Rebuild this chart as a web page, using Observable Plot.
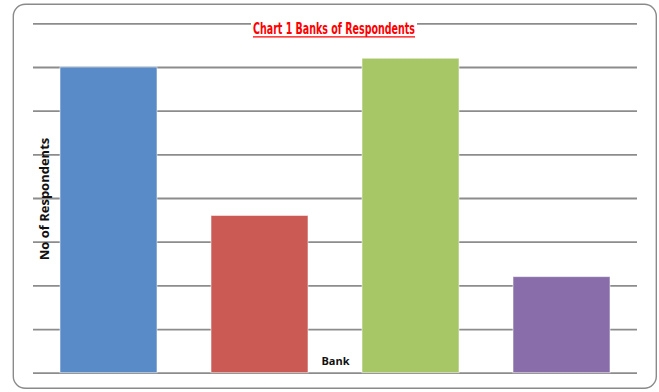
<!DOCTYPE html>
<html>
<head>
<meta charset="utf-8">
<script src="https://cdn.jsdelivr.net/npm/d3@7"></script>
<script src="https://cdn.jsdelivr.net/npm/@observablehq/plot@0.6"></script>
<style>
  html, body { margin: 0; padding: 0; background: #fff; }
  #chart svg { display: block; }
</style>
</head>
<body>
<div id="chart"></div>
<script>
// Data (gridlines every 10, 200 respondents in total)
const banks = ["Bank 1", "Bank 2", "Bank 3", "Bank 4"];
const respondents = [70, 36, 72, 22];
const barColors = ["#598BC9", "#CB5A55", "#A7C666", "#896DAA"];
const yTicks = [0, 10, 20, 30, 40, 50, 60, 70, 80];

const titleText = "Chart 1 Banks of Respondents";
const yLabelText = "No of Respondents";
const xLabelText = "Bank";

const data = banks.map((b, i) => ({bank: b, value: respondents[i], color: barColors[i]}));

const W = 659, H = 392;
const chart = Plot.plot({
  width: W,
  height: H,
  marginTop: 23.3,
  marginBottom: 19.3,
  marginLeft: 33,
  marginRight: 22,
  style: {background: "transparent", overflow: "visible"},
  x: {domain: banks, paddingInner: 0.36, paddingOuter: 0.18, axis: null},
  y: {domain: [0, 80], axis: null},
  marks: [
    Plot.ruleY(yTicks, {stroke: "#8c8c8c", strokeWidth: 1.8}),
    Plot.barY(data, {
      x: "bank", y: "value", fill: "color",
      stroke: "#ffffff", strokeOpacity: 0.55, strokeWidth: 1
    })
  ]
});

const svg = d3.select(chart);

// outer rounded border
svg.insert("rect", ":first-child")
  .attr("x", 13.3).attr("y", 4.2)
  .attr("width", 643).attr("height", 384)
  .attr("rx", 12).attr("ry", 12)
  .attr("fill", "#fff")
  .attr("stroke", "#8a8a8a").attr("stroke-width", 1.4);

// title with white background box
svg.append("rect")
  .attr("x", 251).attr("y", 18).attr("width", 166).attr("height", 22)
  .attr("fill", "#fff");
svg.append("text")
  .attr("x", 334).attr("y", 34)
  .attr("text-anchor", "middle")
  .attr("font-family", "'DejaVu Sans Condensed', 'DejaVu Sans', 'Liberation Sans', sans-serif")
  .style("font-stretch", "condensed")
  .attr("font-weight", "bold")
  .attr("font-size", 15.5)
  .attr("fill", "#FF0000")
  .attr("textLength", 162)
  .attr("lengthAdjust", "spacingAndGlyphs")
  .text(titleText);
svg.append("line")
  .attr("x1", 253).attr("x2", 415)
  .attr("y1", 36.8).attr("y2", 36.8)
  .attr("stroke", "#FF0000").attr("stroke-width", 1.3);

// y axis label
svg.append("text")
  .attr("transform", "translate(48.5,199) rotate(-90)")
  .attr("text-anchor", "middle")
  .attr("font-family", "Open Sans")
  .attr("font-weight", "bold")
  .attr("font-size", 13)
  .attr("fill", "#111")
  .text(yLabelText);

// x axis label
svg.append("text")
  .attr("x", 335.5).attr("y", 365)
  .attr("text-anchor", "middle")
  .attr("font-family", "Open Sans")
  .attr("font-weight", "bold")
  .attr("font-size", 11)
  .attr("fill", "#111")
  .text(xLabelText);

document.getElementById("chart").appendChild(chart);
</script>
</body>
</html>
